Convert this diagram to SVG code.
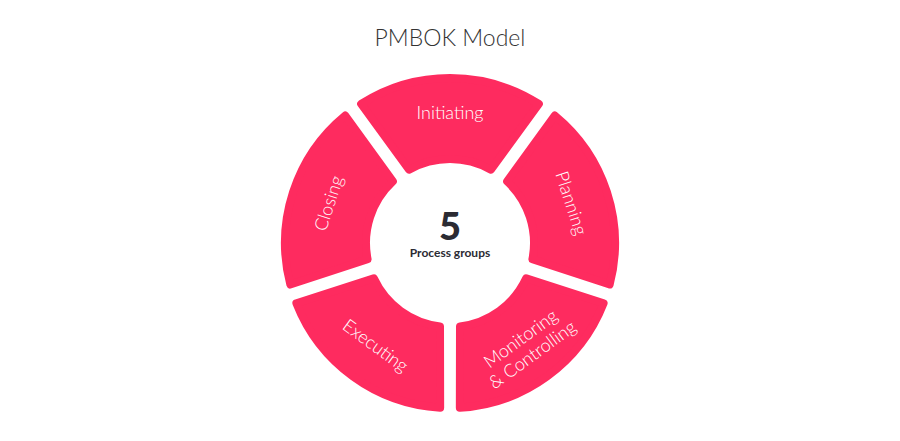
<svg xmlns="http://www.w3.org/2000/svg" width="900" height="441" viewBox="0 0 900 441">
<defs>
<style>
.seg{fill:#fe2b5f;stroke:#fe2b5f;stroke-width:8;stroke-linejoin:round}
.lbl{font-family:Lato,"Open Sans",sans-serif;font-size:18px;font-weight:300;fill:#fff;text-anchor:middle;dominant-baseline:central}
</style>
<path id="segpath" d="M361.15,103.97 A165,165 0 0 1 538.85,103.97 L490.93,169.65 A84,84 0 0 0 409.07,169.65 Z"/>
</defs>
<rect width="900" height="441" fill="#fff"/>
<text x="450" y="46" font-family="Lato,'Open Sans',sans-serif" font-size="23" font-weight="300" fill="#333" text-anchor="middle">PMBOK Model</text>
<g id="connectors"/>
<g id="initiating"><use href="#segpath" class="seg"/><text class="lbl" transform="translate(450,112)">Initiating</text></g>
<g id="planning"><use href="#segpath" class="seg" transform="rotate(72 450 243)"/><text class="lbl" transform="translate(572,203) rotate(72)">Planning</text></g>
<g id="monitoring"><use href="#segpath" class="seg" transform="rotate(144 450 243)"/><text class="lbl" transform="translate(526,346) rotate(-36)"><tspan x="0" y="-10">Monitoring</tspan><tspan x="0" y="10">&amp; Controlling</tspan></text></g>
<g id="executing"><use href="#segpath" class="seg" transform="rotate(216 450 243)"/><text class="lbl" transform="translate(376,345) rotate(36)">Executing</text></g>
<g id="closing"><use href="#segpath" class="seg" transform="rotate(288 450 243)"/><text class="lbl" transform="translate(328,203) rotate(-72)">Closing</text></g>
<g id="center">
<text x="450" y="240" font-family="Lato,'Open Sans',sans-serif" font-size="38" font-weight="900" fill="#2b2b33" text-anchor="middle">5</text>
<text x="450" y="257" font-family="Lato,'Open Sans',sans-serif" font-size="12" font-weight="700" fill="#2b2b33" text-anchor="middle">Process groups</text>
</g>
</svg>
